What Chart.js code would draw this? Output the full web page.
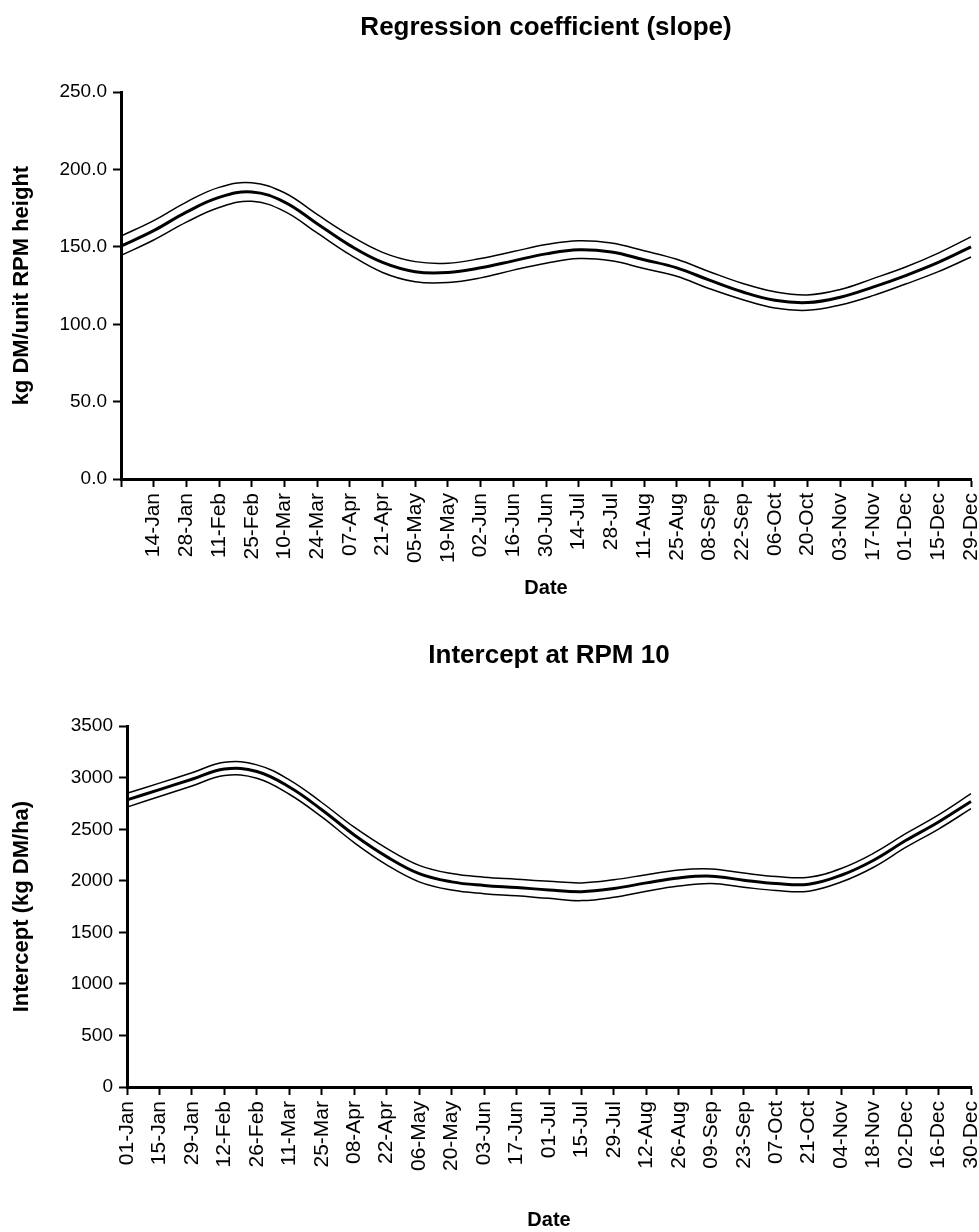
<!DOCTYPE html>
<html>
<head>
<meta charset="utf-8">
<script src="https://cdn.jsdelivr.net/npm/chart.js@4.4.1/dist/chart.umd.min.js"></script>
<style>
  body { margin: 0; background: #fff; }
  canvas { display: block; }
</style>
</head>
<body>
<canvas id="slope-chart" width="979" height="620"></canvas>
<canvas id="intercept-chart" width="979" height="612"></canvas>
<script>
// tick labels (every 14 days)
const slopeDates = ['', '14-Jan', '28-Jan', '11-Feb', '25-Feb', '10-Mar', '24-Mar', '07-Apr', '21-Apr', '05-May', '19-May', '02-Jun', '16-Jun', '30-Jun', '14-Jul', '28-Jul', '11-Aug', '25-Aug', '08-Sep', '22-Sep', '06-Oct', '20-Oct', '03-Nov', '17-Nov', '01-Dec', '15-Dec', '29-Dec']
const interceptDates = ['01-Jan', '15-Jan', '29-Jan', '12-Feb', '26-Feb', '11-Mar', '25-Mar', '08-Apr', '22-Apr', '06-May', '20-May', '03-Jun', '17-Jun', '01-Jul', '15-Jul', '29-Jul', '12-Aug', '26-Aug', '09-Sep', '23-Sep', '07-Oct', '21-Oct', '04-Nov', '18-Nov', '02-Dec', '16-Dec', '30-Dec']

// regression slope, kg DM/unit RPM height
const slopeMid = [150.5, 160.5, 172.5, 182, 185.5, 179, 165, 151, 140, 134, 133.5, 136.5, 141, 145.5, 148.2, 146.7, 141.7, 136.5, 128.5, 121, 115.5, 114, 117.5, 124, 131.5, 140, 150]
const slopeUpper = [157, 167, 179, 188.5, 191.5, 185, 171, 157.5, 146.5, 140.5, 139.5, 142.5, 147, 151.5, 154, 152.5, 147.5, 142, 134, 126.5, 121, 119, 122.5, 129.5, 137, 146, 156.5]
const slopeLower = [144.5, 154.5, 166, 175.5, 179.5, 173, 159, 145, 133.5, 127.5, 127, 130, 135, 139.5, 142.5, 141, 136, 131, 123, 116, 110.5, 109, 112.5, 118.5, 126, 134, 143.5]

// intercept at RPM 10, kg DM/ha
const interceptMid = [2785, 2885, 2985, 3085, 3060, 2910, 2690, 2445, 2235, 2070, 1990, 1955, 1935, 1912, 1895, 1925, 1980, 2028, 2045, 2006, 1974, 1967, 2054, 2200, 2393, 2571, 2770]
const interceptUpper = [2850, 2948, 3048, 3150, 3125, 2980, 2760, 2520, 2315, 2150, 2070, 2035, 2015, 1995, 1980, 2010, 2060, 2105, 2115, 2075, 2042, 2035, 2120, 2268, 2460, 2640, 2845]
const interceptLower = [2715, 2818, 2920, 3022, 2995, 2840, 2620, 2370, 2155, 1990, 1910, 1875, 1855, 1830, 1808, 1840, 1900, 1950, 1975, 1938, 1906, 1900, 1988, 2132, 2326, 2502, 2700]

Chart.defaults.font.family = '"Liberation Sans", Arial, sans-serif'
Chart.defaults.color = '#000'

function band(data, width) {
    return {
        data: data,
        borderColor: '#000',
        borderWidth: width,
        pointRadius: 0,
        tension: 0.4,
        fill: false,
    }
}

function makeChart(id, opts) {
    new Chart(document.getElementById(id), {
        type: 'line',
        data: {
            labels: opts.labels,
            datasets: [band(opts.upper, 1.5), band(opts.mid, 3), band(opts.lower, 1.5)]
        },
        options: {
            responsive: false,
            animation: false,
            layout: { padding: { left: 0, right: 8, top: 0, bottom: 0 } },
            plugins: {
                legend: { display: false },
                tooltip: { enabled: false },
                title: {
                    display: true,
                    text: opts.title,
                    fullSize: false,
                    font: { size: 26, weight: 'bold' },
                    padding: opts.titlePadding,
                },
            },
            scales: {
                x: {
                    grid: { display: true, drawOnChartArea: false, drawTicks: true, tickLength: 8, tickColor: '#000', tickWidth: 2 },
                    border: { display: true, color: '#000', width: 3 },
                    ticks: { autoSkip: false, minRotation: 90, maxRotation: 90, padding: 6, font: { size: 21 } },
                    title: { display: true, text: 'Date', font: { size: 20, weight: 'bold' }, padding: { top: 0, bottom: opts.dateBottom } },
                    afterFit: (s) => {
                        s.height = opts.xHeight
                        s.paddingLeft = 0
                        s.paddingRight = 0
                    },
                },
                y: {
                    min: 0,
                    max: opts.yMax,
                    grid: { display: true, drawOnChartArea: false, drawTicks: true, tickLength: 8, tickColor: '#000', tickWidth: 2 },
                    border: { display: true, color: '#000', width: 3 },
                    ticks: { stepSize: opts.yStep, padding: 6, font: { size: 19 }, callback: opts.yFormat },
                    title: { display: true, text: opts.yTitle, font: { size: 22, weight: 'bold' }, padding: { top: 9, bottom: 0 } },
                    afterFit: (s) => { s.width = opts.yWidth },
                },
            },
        },
    })
}

makeChart('slope-chart', {
    labels: slopeDates,
    mid: slopeMid, upper: slopeUpper, lower: slopeLower,
    title: 'Regression coefficient (slope)',
    titlePadding: { top: 12, bottom: 49 },
    yMax: 250, yStep: 50,
    yFormat: (v) => v.toFixed(1),
    yTitle: 'kg DM/unit RPM height',
    yWidth: 121,
    xHeight: 141,
    dateBottom: 20,
})

makeChart('intercept-chart', {
    labels: interceptDates,
    mid: interceptMid, upper: interceptUpper, lower: interceptLower,
    title: 'Intercept at RPM 10',
    titlePadding: { top: 20, bottom: 55 },
    yMax: 3500, yStep: 500,
    yFormat: (v) => v,
    yTitle: 'Intercept (kg DM/ha)',
    yWidth: 127,
    xHeight: 145,
    dateBottom: 0,
})
</script>
</body>
</html>
